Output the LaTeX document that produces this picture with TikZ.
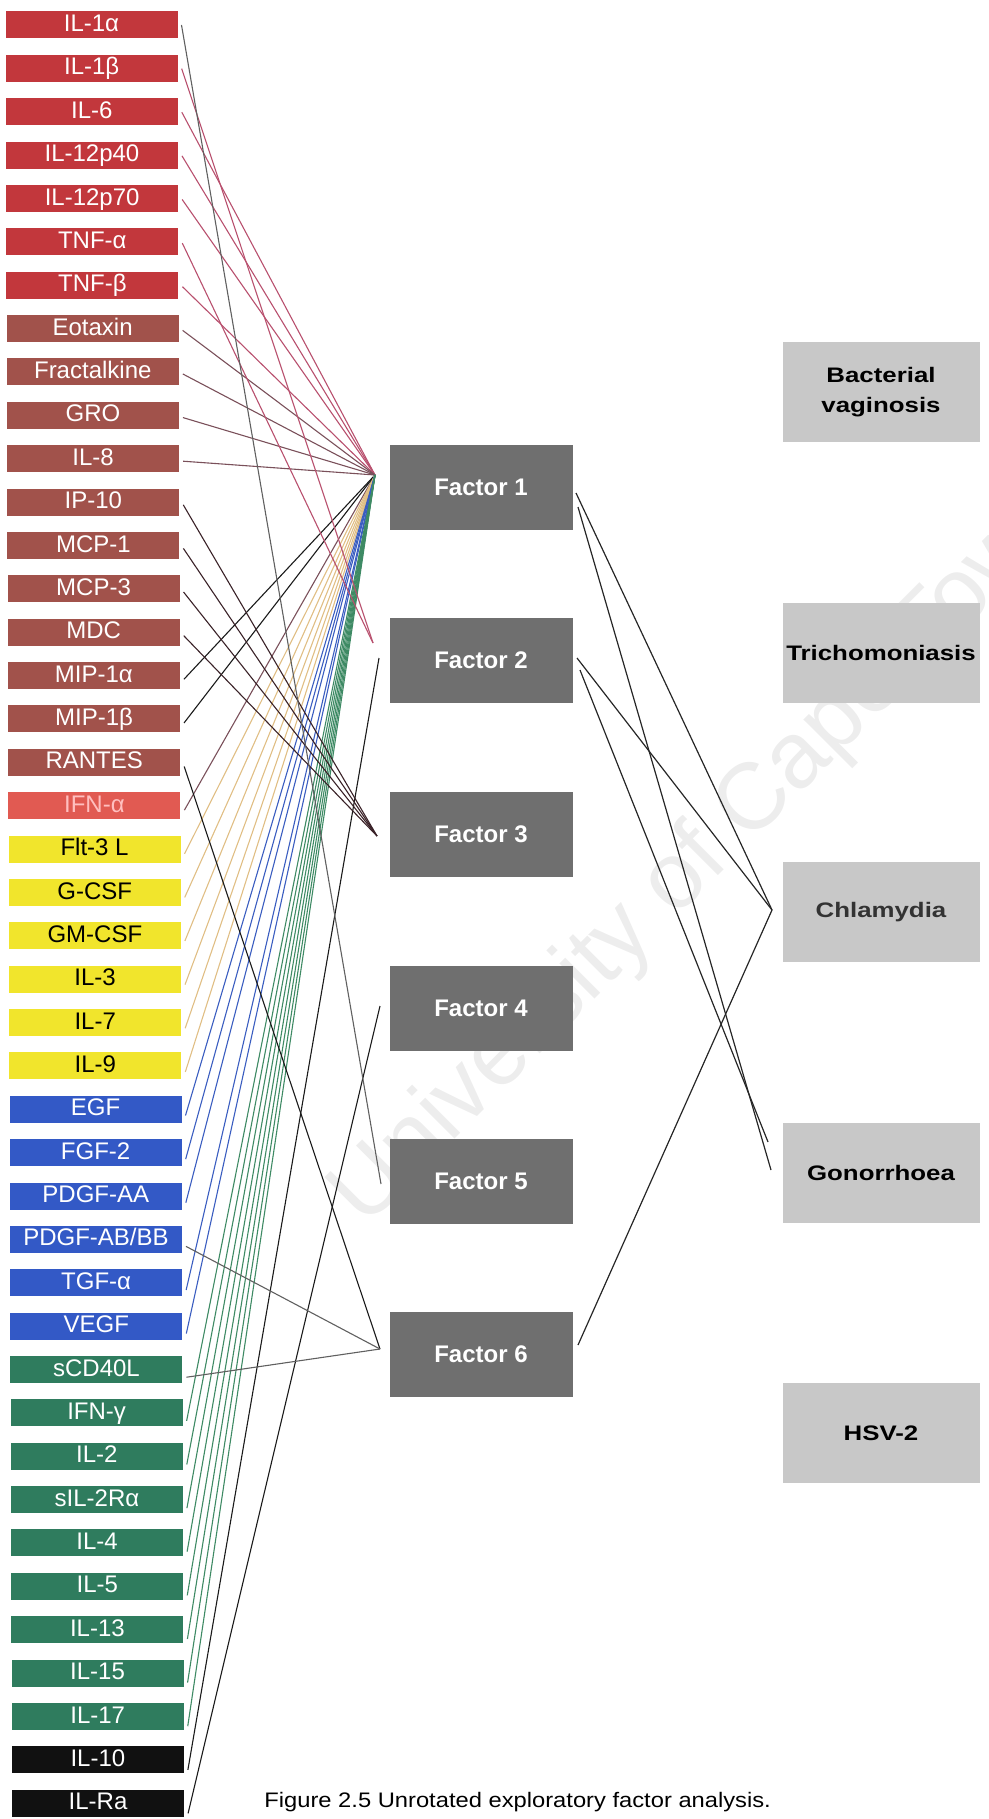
\documentclass[tikz,border=0pt]{standalone}
\usepackage{fontspec}
\setmainfont{Liberation Sans}
\newfontfamily\rboxfont[FakeStretch=1.23]{Liberation Sans}
\newfontfamily\capfont[FakeStretch=1.13]{Liberation Sans}
\usetikzlibrary{calc}
\definecolor{cred}{HTML}{C2373C}
\definecolor{cbrown}{HTML}{A1524B}
\definecolor{cifn}{HTML}{E15A52}
\definecolor{cyel}{HTML}{F1E52C}
\definecolor{cblue}{HTML}{3359C6}
\definecolor{cgreen}{HTML}{2F7C5E}
\definecolor{cblack}{HTML}{111111}
\definecolor{fgray}{HTML}{6F6F6F}
\definecolor{rgray}{HTML}{C8C8C8}
\definecolor{lred}{HTML}{B8506E}
\definecolor{lbrown}{HTML}{7A505A}
\definecolor{ldark}{HTML}{3A2228}
\definecolor{lyel}{HTML}{E0BE84}
\definecolor{lblue}{HTML}{3A5DC0}
\definecolor{lgreen}{HTML}{3E8A64}
\definecolor{lblack}{HTML}{1A1A1A}
\definecolor{lgray}{HTML}{606060}
\newcommand\lbox[4]{%
  \node[lb,#3] (#1) at ({91.5+0.16*#2},{25+43.37*#2}) {#4};
  \coordinate (s#1) at ({181.5+0.16*#2},{25+43.37*#2+0.25*#2});}
\begin{document}
\begin{tikzpicture}[x=0.5pt,y=-0.5pt,
  lb/.style={rectangle,inner sep=0pt,minimum width=86pt,minimum height=13.5pt,
    text height=8.6pt,text depth=2pt,font=\fontsize{12}{12}\selectfont,text=white},
  redb/.style={fill=cred},
  brownb/.style={fill=cbrown},
  ifnb/.style={fill=cifn,text=red!25!white},
  yelb/.style={fill=cyel,text=black},
  blueb/.style={fill=cblue},
  greenb/.style={fill=cgreen},
  blackb/.style={fill=cblack},
  fb/.style={rectangle,fill=fgray,text=white,inner sep=0pt,
    minimum width=91.5pt,minimum height=42.5pt,font=\bfseries\fontsize{12}{12}\selectfont},
  rb/.style={rectangle,fill=rgray,text=black,inner sep=0pt,align=center,
    minimum width=98.5pt,minimum height=50pt,font=\rboxfont\bfseries\fontsize{10.5}{15}\selectfont},
  ln/.style={line width=0.55pt},
  rl/.style={line width=0.6pt,black!85}]
\useasboundingbox (0,0) rectangle (989,1819);
% watermark
\node[rotate=45,anchor=base west,inner sep=0pt,text=black!7,
  font=\fontsize{47}{47}\selectfont] (wm) at (365,1229) {University of Cape Town};
% left boxes
\lbox{ila}{0}{redb}{IL-1α}
\lbox{ilb}{1}{redb}{IL-1β}
\lbox{il6}{2}{redb}{IL-6}
\lbox{ilxa}{3}{redb}{IL-12p40}
\lbox{ilxb}{4}{redb}{IL-12p70}
\lbox{tnfa}{5}{redb}{TNF-α}
\lbox{tnfb}{6}{redb}{TNF-β}
\lbox{eot}{7}{brownb}{Eotaxin}
\lbox{fra}{8}{brownb}{Fractalkine}
\lbox{gro}{9}{brownb}{GRO}
\lbox{il8}{10}{brownb}{IL-8}
\lbox{ip}{11}{brownb}{IP-10}
\lbox{mcpa}{12}{brownb}{MCP-1}
\lbox{mcpc}{13}{brownb}{MCP-3}
\lbox{mdc}{14}{brownb}{MDC}
\lbox{mipa}{15}{brownb}{MIP-1α}
\lbox{mipb}{16}{brownb}{MIP-1β}
\lbox{rantes}{17}{brownb}{RANTES}
\lbox{ifna}{18}{ifnb}{IFN-α}
\lbox{flt}{19}{yelb}{Flt-3 L}
\lbox{gcsf}{20}{yelb}{G-CSF}
\lbox{gmcsf}{21}{yelb}{GM-CSF}
\lbox{ilc}{22}{yelb}{IL-3}
\lbox{ild}{23}{yelb}{IL-7}
\lbox{ile}{24}{yelb}{IL-9}
\lbox{egf}{25}{blueb}{EGF}
\lbox{fgf}{26}{blueb}{FGF-2}
\lbox{pdgfa}{27}{blueb}{PDGF-AA}
\lbox{pdgfb}{28}{blueb}{PDGF-AB/BB}
\lbox{tgfa}{29}{blueb}{TGF-α}
\lbox{vegf}{30}{blueb}{VEGF}
\lbox{cd}{31}{greenb}{sCD40L}
\lbox{ifng}{32}{greenb}{IFN-γ}
\lbox{ilf}{33}{greenb}{IL-2}
\lbox{ilfr}{34}{greenb}{sIL-2Rα}
\lbox{ilg}{35}{greenb}{IL-4}
\lbox{ilh}{36}{greenb}{IL-5}
\lbox{ili}{37}{greenb}{IL-13}
\lbox{ilj}{38}{greenb}{IL-15}
\lbox{ilk}{39}{greenb}{IL-17}
\lbox{ilx}{40}{blackb}{IL-10}
\lbox{ilra}{41}{blackb}{IL-Ra}
% factor boxes
\node[fb] (F1) at (481,487) {Factor 1};
\node[fb] (F2) at (481,660) {Factor 2};
\node[fb] (F3) at (481,834) {Factor 3};
\node[fb] (F4) at (481,1008) {Factor 4};
\node[fb] (F5) at (481,1181) {Factor 5};
\node[fb] (F6) at (481,1354) {Factor 6};
% right boxes
\node[rb] (bv) at (881,392) {Bacterial\\vaginosis};
\node[rb] (tri) at (881,653) {Trichomoniasis};
\node[rb,text=black!80] (chla) at (881,912) {Chlamydia};
\node[rb] (gono) at (881,1173) {Gonorrhoea};
\node[rb] (hsv) at (881,1433) {HSV-2};
% convergence points
\coordinate (c1) at (375,475);
\coordinate (c2a) at (373,643);
\coordinate (c2b) at (379,658);
\coordinate (c3) at (377,836);
\coordinate (c4) at (380,1006);
\coordinate (c5) at (381,1184);
\coordinate (c6) at (380,1349);
% Factor 1
\foreach \n in {il6,ilxa,ilxb,tnfb} \draw[ln,lred] (s\n) -- (c1);
\foreach \n in {eot,fra,gro,il8,ifna} \draw[ln,lbrown] (s\n) -- (c1);
\foreach \n in {mipa,mipb} \draw[ln,lblack] (s\n) -- (c1);
\foreach \n in {flt,gcsf,gmcsf,ilc,ild,ile} \draw[ln,lyel] (s\n) -- (c1);
\foreach \n in {egf,fgf,pdgfa,tgfa,vegf} \draw[ln,lblue] (s\n) -- (c1);
\foreach \n in {ifng,ilf,ilfr,ilg,ilh,ili,ilj,ilk} \draw[ln,lgreen] (s\n) -- (c1);
% Factor 2
\draw[ln,lred] (silb) -- (c2a);
\draw[ln,lred] (stnfa) -- (c2a);
\draw[ln,lblack] (silx) -- (c2b);
% Factor 3
\foreach \n in {ip,mcpa,mcpc,mdc} \draw[ln,ldark] (s\n) -- (c3);
% Factor 4
\draw[ln,lblack] (silra) -- (c4);
% Factor 5
\draw[ln,lgray] (sila) -- (c5);
% Factor 6
\draw[ln,lblack] (srantes) -- (c6);
\draw[ln,lgray] (spdgfb) -- (c6);
\draw[ln,lgray] (scd) -- (c6);
% right side
\coordinate (f1a) at (576,493);
\coordinate (f1b) at (578,507);
\coordinate (f2a) at (577,658);
\coordinate (f2b) at (580,670);
\coordinate (f6a) at (578,1345);
\coordinate (chl) at (772,910);
\coordinate (gona) at (768,1142);
\coordinate (gonb) at (771,1170);
\draw[rl] (f1a) -- (chl);
\draw[rl] (f1b) -- (gonb);
\draw[rl] (f2a) -- (chl);
\draw[rl] (f2b) -- (gona);
\draw[rl] (f6a) -- (chl);
% caption
\node[anchor=base west,inner sep=0pt,font=\capfont\fontsize{10.5}{10.5}\selectfont] (cap) at (264,1807)
  {Figure 2.5 Unrotated exploratory factor analysis.};
\end{tikzpicture}
\end{document}
